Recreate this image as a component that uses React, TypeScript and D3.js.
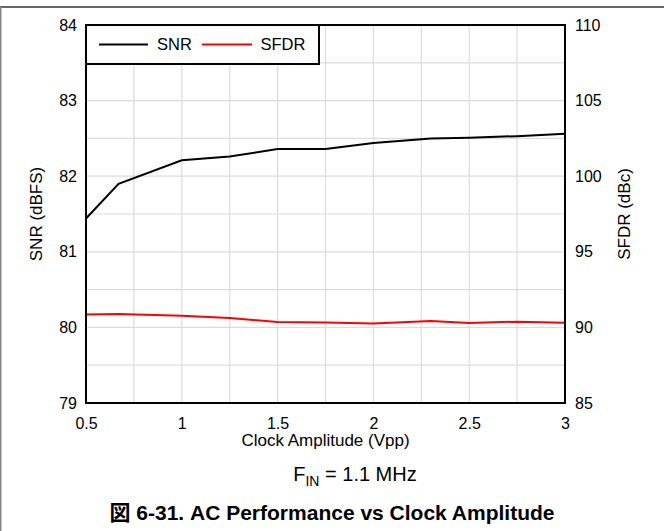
import { useEffect, useRef } from "react";
import * as d3 from "d3";

// values
const clockAmplitude = [0.5, 0.67, 1, 1.25, 1.5, 1.75, 2, 2.3, 2.5, 2.75, 3];
const snr = [81.44, 81.9, 82.21, 82.26, 82.36, 82.36, 82.44, 82.5, 82.51, 82.53, 82.56];
const sfdr = [90.86, 90.89, 90.77, 90.62, 90.36, 90.33, 90.25, 90.42, 90.29, 90.38, 90.31];

const xTicks = [0.5, 1, 1.5, 2, 2.5, 3];
const snrTicks = [79, 80, 81, 82, 83, 84];
const sfdrTicks = [85, 90, 95, 100, 105, 110];

const FONT = '"Liberation Sans", Arial, sans-serif';

export default function App() {
  const width = 664;
  const height = 531;
  const marginTop = 25;
  const marginRight = 99;
  const marginBottom = 128;
  const marginLeft = 86;

  const gx = useRef(null);
  const gyl = useRef(null);
  const gyr = useRef(null);

  const x = d3.scaleLinear().domain([0.5, 3]).range([marginLeft, width - marginRight]);
  const yl = d3.scaleLinear().domain([79, 84]).range([height - marginBottom, marginTop]);
  const yr = d3.scaleLinear().domain([85, 110]).range([height - marginBottom, marginTop]);

  const xGrid = d3.range(0.5, 3.0001, 0.25);
  const yGrid = d3.range(79, 84.0001, 0.5);

  const snrLine = d3.line<number>()
    .x((d, i) => x(clockAmplitude[i]))
    .y(d => yl(d));
  const sfdrLine = d3.line<number>()
    .x((d, i) => x(clockAmplitude[i]))
    .y(d => yr(d));

  useEffect(() => {
    const g = d3.select(gx.current)
      // @ts-ignore
      .call(d3.axisBottom(x).tickValues(xTicks).tickFormat(d3.format("")).tickSize(0).tickPadding(15));
    g.select(".domain").remove();
    g.selectAll("text").attr("font-size", 16).attr("font-family", FONT).attr("fill", "#000");
  }, [gx, x]);

  useEffect(() => {
    const g = d3.select(gyl.current)
      // @ts-ignore
      .call(d3.axisLeft(yl).tickValues(snrTicks).tickFormat(d3.format("d")).tickSize(0).tickPadding(9));
    g.select(".domain").remove();
    g.selectAll("text").attr("font-size", 16).attr("font-family", FONT).attr("fill", "#000");
  }, [gyl, yl]);

  useEffect(() => {
    const g = d3.select(gyr.current)
      // @ts-ignore
      .call(d3.axisRight(yr).tickValues(sfdrTicks).tickFormat(d3.format("d")).tickSize(0).tickPadding(10));
    g.select(".domain").remove();
    g.selectAll("text").attr("font-size", 16).attr("font-family", FONT).attr("fill", "#000");
  }, [gyr, yr]);

  const plotW = width - marginLeft - marginRight;
  const plotH = height - marginTop - marginBottom;
  const cx = marginLeft + plotW / 2;
  const cy = marginTop + plotH / 2;

  return (
    <svg width={width} height={height} style={{ position: "absolute", left: 0, top: 0, background: "#fff" }}>
      {/* figure frame */}
      <line x1={0} x2={width} y1={7} y2={7} stroke="#333" strokeWidth={1.5} />
      <line x1={0.75} x2={0.75} y1={7} y2={height} stroke="#888" strokeWidth={1.5} />

      {/* grid */}
      {xGrid.map(v => (
        <line key={"gx" + v} x1={x(v)} x2={x(v)} y1={marginTop} y2={height - marginBottom} stroke="#dcdcdc" strokeWidth={1.2} />
      ))}
      {yGrid.map(v => (
        <line key={"gy" + v} x1={marginLeft} x2={width - marginRight} y1={yl(v)} y2={yl(v)} stroke="#dcdcdc" strokeWidth={1.2} />
      ))}

      <path d={sfdrLine(sfdr) ?? ""} fill="none" stroke="#ff0000" strokeWidth={2} />
      <path d={snrLine(snr) ?? ""} fill="none" stroke="#000" strokeWidth={2} />

      <rect x={marginLeft} y={marginTop} width={plotW} height={plotH} fill="none" stroke="#000" strokeWidth={2} />

      {/* legend */}
      <g fontFamily={FONT} fontSize={16.5}>
        <rect x={marginLeft} y={marginTop} width={233} height={39} fill="#fff" stroke="#000" strokeWidth={2} />
        <line x1={99} x2={148} y1={44.5} y2={44.5} stroke="#000" strokeWidth={2} />
        <text x={157} y={44.5} dy="0.35em">SNR</text>
        <line x1={202} x2={252} y1={44.5} y2={44.5} stroke="#ff0000" strokeWidth={2} />
        <text x={260.5} y={44.5} dy="0.35em">SFDR</text>
      </g>

      <g ref={gx} transform={`translate(0,${height - marginBottom})`} />
      <g ref={gyl} transform={`translate(${marginLeft},0)`} />
      <g ref={gyr} transform={`translate(${width - marginRight},0)`} />

      <g fontFamily={FONT} fill="#000">
        <text transform={`translate(42,${cy}) rotate(-90)`} textAnchor="middle" fontSize={17}>SNR (dBFS)</text>
        <text transform={`translate(630,${cy}) rotate(-90)`} textAnchor="middle" fontSize={17}>SFDR (dBc)</text>
        <text x={cx} y={446} textAnchor="middle" fontSize={17}>Clock Amplitude (Vpp)</text>
        <text x={355} y={481} textAnchor="middle" fontSize={20}>
          F<tspan fontSize={14} dy={5}>IN</tspan><tspan dy={-5}> = 1.1 MHz</tspan>
        </text>
        <text x={332} y={520} textAnchor="middle" fontSize={21} fontWeight="bold"
          fontFamily={'"Liberation Sans", Arial, "Noto Sans CJK JP", sans-serif'}>
          図 6-31. AC Performance vs Clock Amplitude
        </text>
      </g>
    </svg>
  );
}
